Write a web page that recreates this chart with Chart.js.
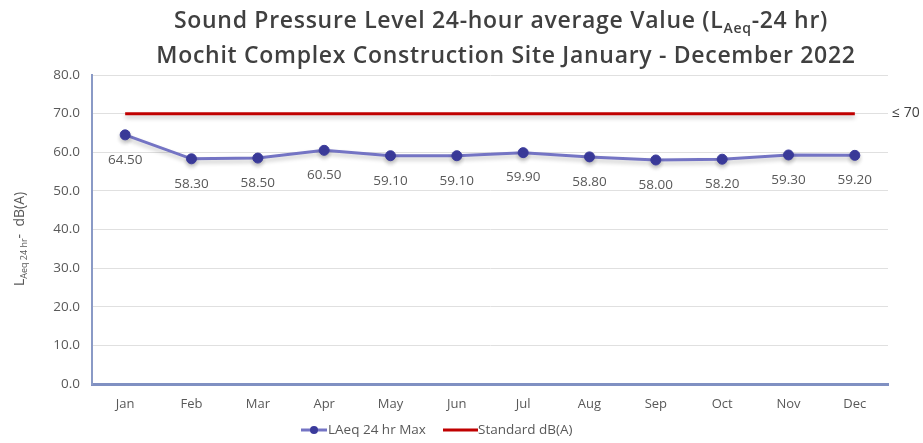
<!DOCTYPE html>
<html>
<head>
<meta charset="utf-8">
<script src="https://cdn.jsdelivr.net/npm/chart.js@4.4.1/dist/chart.umd.min.js"></script>
<style>
  html, body { margin: 0; padding: 0; background: #ffffff; }
  #wrap { width: 923px; height: 443px; position: relative; }
</style>
</head>
<body>
<div id="wrap"><canvas id="c" width="923" height="443"></canvas></div>
<script>
// Monthly 24-hour average sound pressure level, dB(A)
const months = ['Jan', 'Feb', 'Mar', 'Apr', 'May', 'Jun', 'Jul', 'Aug', 'Sep', 'Oct', 'Nov', 'Dec'];
const laeqMax = [64.5, 58.3, 58.5, 60.5, 59.1, 59.1, 59.9, 58.8, 58.0, 58.2, 59.3, 59.2];
const standardLimit = [70, 70, 70, 70, 70, 70, 70, 70, 70, 70, 70, 70];
const yTicks = [0, 10, 20, 30, 40, 50, 60, 70, 80];
const seriesNames = ['LAeq 24 hr Max', 'Standard dB(A)'];
const limitLabel = '\u2264 70';

const FONT = '"Open Sans", Lato, sans-serif';
const TEXT = '#595959';
const LINE_BLUE = '#7474c4';
const POINT_BLUE = '#3b3b9c';
const RED = '#c00000';

// draws text runs side by side (used for subscripts), left aligned at x
function drawSubText(ctx, parts, x, y) {
  let cx = x;
  for (const p of parts) {
    ctx.font = p.font;
    ctx.fillText(p.text, cx, y + (p.dy || 0));
    cx += ctx.measureText(p.text).width;
  }
  return cx - x;
}
function measureSubText(ctx, parts) {
  let w = 0;
  for (const p of parts) { ctx.font = p.font; w += ctx.measureText(p.text).width; }
  return w;
}

const decorations = {
  id: 'decorations',
  beforeDatasetDraw(chart) {
    const ctx = chart.ctx;
    ctx.save();
    ctx.shadowColor = 'rgba(0,0,0,0.22)';
    ctx.shadowBlur = 4;
    ctx.shadowOffsetY = 3;
  },
  afterDatasetDraw(chart) {
    chart.ctx.restore();
  },
  afterDraw(chart) {
    const ctx = chart.ctx;
    const area = chart.chartArea;
    const ys = chart.scales.y;
    ctx.save();
    ctx.textBaseline = 'alphabetic';
    ctx.fillStyle = '#404040';

    // Title, two lines, centred
    ctx.letterSpacing = '0.7px';
    const tf = '600 23px ' + FONT;
    const ts = '600 14px ' + FONT;
    const line1 = [
      { text: 'Sound Pressure Level 24-hour average Value (L', font: tf },
      { text: 'Aeq', font: ts, dy: 5 },
      { text: '-24 hr)', font: tf }
    ];
    const w1 = measureSubText(ctx, line1);
    drawSubText(ctx, line1, 501 - w1 / 2, 28);
    ctx.font = tf;
    ctx.textAlign = 'center';
    ctx.fillText('Mochit Complex Construction Site January - December 2022', 506, 63);
    ctx.letterSpacing = '0px';

    // Y axis title, rotated
    ctx.save();
    ctx.translate(24, 239);
    ctx.rotate(-Math.PI / 2);
    ctx.fillStyle = TEXT;
    const yparts = [
      { text: 'L', font: '14px ' + FONT },
      { text: 'Aeq 24 hr', font: '9px ' + FONT, dy: 3 },
      { text: '-  dB(A)', font: '14px ' + FONT }
    ];
    ctx.textAlign = 'left';
    const wy = measureSubText(ctx, yparts);
    drawSubText(ctx, yparts, -wy / 2, 0);
    ctx.restore();

    // Value labels under each point
    const meta = chart.getDatasetMeta(0);
    ctx.font = '13.5px ' + FONT;
    ctx.fillStyle = TEXT;
    ctx.textAlign = 'center';
    ctx.textBaseline = 'middle';
    meta.data.forEach((pt, i) => {
      ctx.fillText(laeqMax[i].toFixed(2), pt.x, pt.y + 25);
    });

    // Limit label at right of standard line
    ctx.font = '14px ' + FONT;
    ctx.fillStyle = '#404040';
    ctx.textAlign = 'left';
    ctx.fillText(limitLabel, area.right + 4, ys.getPixelForValue(70) - 1);

    // Legend
    const ly = 430;
    let lx = 301;
    ctx.lineWidth = 3;
    ctx.strokeStyle = LINE_BLUE;
    ctx.beginPath(); ctx.moveTo(lx, ly); ctx.lineTo(lx + 26, ly); ctx.stroke();
    ctx.fillStyle = POINT_BLUE;
    ctx.beginPath(); ctx.arc(lx + 13, ly, 4, 0, Math.PI * 2); ctx.fill();
    ctx.fillStyle = TEXT;
    ctx.font = '13.5px ' + FONT;
    ctx.fillText(seriesNames[0], lx + 27, ly);
    lx = 443;
    ctx.strokeStyle = RED;
    ctx.beginPath(); ctx.moveTo(lx, ly); ctx.lineTo(lx + 35, ly); ctx.stroke();
    ctx.fillText(seriesNames[1], lx + 35, ly);
    ctx.restore();
  }
};

new Chart(document.getElementById('c'), {
  type: 'line',
  data: {
    labels: months,
    datasets: [
      {
        label: seriesNames[0],
        data: laeqMax,
        borderColor: LINE_BLUE,
        borderWidth: 3,
        pointRadius: 5,
        pointBackgroundColor: POINT_BLUE,
        pointBorderColor: POINT_BLUE,
        pointBorderWidth: 1,
        tension: 0,
        order: 1
      },
      {
        label: seriesNames[1],
        data: standardLimit,
        borderColor: RED,
        borderWidth: 3,
        pointRadius: 0,
        tension: 0,
        order: 2
      }
    ]
  },
  options: {
    responsive: false,
    animation: false,
    events: [],
    layout: { padding: { left: 0, right: 35, top: 75, bottom: 0 } },
    plugins: {
      legend: { display: false },
      title: { display: false },
      tooltip: { enabled: false }
    },
    scales: {
      x: {
        offset: true,
        grid: { display: false, drawTicks: false },
        border: { display: true, color: '#8090c2', width: 3 },
        ticks: { color: TEXT, font: { family: FONT, size: 13 }, padding: 12 },
        afterFit(scale) { scale.height = 59; }
      },
      y: {
        min: 0,
        max: 80,
        afterBuildTicks(scale) { scale.ticks = yTicks.map(v => ({ value: v })); },
        grid: { color: '#e0e0e0', lineWidth: 1, drawTicks: false },
        border: { display: true, color: '#8a9ac6', width: 2 },
        ticks: {
          color: TEXT,
          font: { family: FONT, size: 13.5 },
          padding: 12,
          callback: v => Number(v).toFixed(1)
        },
        afterFit(scale) { scale.width = 92; }
      }
    }
  },
  plugins: [decorations]
});
</script>
</body>
</html>
